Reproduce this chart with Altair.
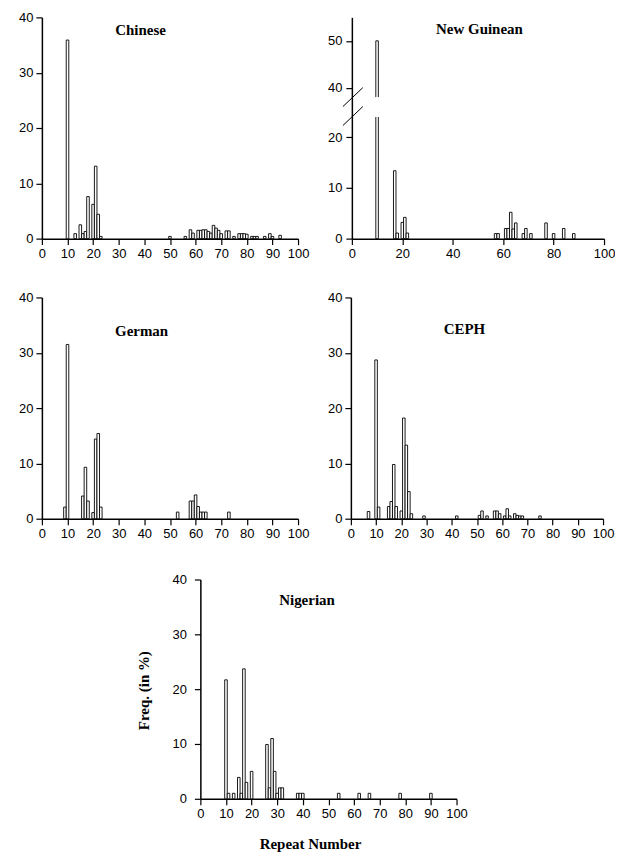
import altair as alt
import pandas as pd

x_ticks = list(range(0, 101, 10))

chinese_repeat = [10, 13, 15, 16, 17, 18, 20, 21, 22, 23, 50, 56, 58, 59, 61, 62, 63, 64, 65, 66,
                  67, 68, 69, 70, 72, 73, 75, 77, 78, 79, 80, 82, 83, 84, 87, 89, 90, 93]
chinese_freq = [35.9, 0.9, 2.5, 0.9, 1.3, 7.6, 6.2, 13.1, 4.4, 0.4, 0.4, 0.4, 1.6, 1.0, 1.5, 1.5, 1.6, 1.6, 1.3, 1.0,
                2.4, 1.9, 1.5, 0.9, 1.4, 1.4, 0.4, 0.9, 0.9, 0.9, 0.8, 0.4, 0.4, 0.4, 0.4, 0.9, 0.4, 0.6]

newguinean_repeat = [10, 17, 18, 20, 21, 22, 57, 58, 61, 62, 63, 64, 65, 68, 69, 71, 77, 80, 84, 88]
newguinean_freq = [50.0, 13.4, 1.1, 3.2, 4.2, 1.1, 1.0, 1.0, 2.0, 2.0, 5.2, 1.9, 3.1, 1.0, 2.0, 1.0, 3.1, 1.0, 2.0, 1.0]

german_repeat = [9, 10, 16, 17, 18, 20, 21, 22, 23, 53, 58, 59, 60, 61, 62, 63, 64, 73]
german_freq = [2.1, 31.5, 4.1, 9.3, 3.2, 1.1, 14.4, 15.4, 2.1, 1.2, 3.2, 3.2, 4.3, 2.2, 1.2, 1.2, 1.2, 1.2]

ceph_repeat = [7, 10, 11, 15, 16, 17, 18, 20, 21, 22, 23, 24, 29, 42, 51, 52, 54, 57, 58, 59,
               61, 62, 63, 65, 66, 67, 68, 75]
ceph_freq = [1.3, 28.7, 2.1, 2.2, 3.1, 9.8, 2.2, 1.4, 18.2, 13.3, 4.9, 0.9, 0.5, 0.5, 0.6, 1.4, 0.5, 1.4, 1.4, 0.9,
             0.5, 1.8, 0.5, 0.9, 0.6, 0.5, 0.5, 0.5]

nigerian_repeat = [10, 11, 13, 15, 16, 17, 18, 20, 26, 27, 28, 29, 30, 31, 32, 38, 39, 40, 54, 62, 66, 78, 90]
nigerian_freq = [21.7, 1.0, 1.0, 3.9, 1.0, 23.7, 3.0, 5.0, 9.9, 2.0, 11.0, 5.0, 1.0, 2.0, 2.0, 1.0, 1.0, 1.0,
                 1.0, 1.0, 1.0, 1.0, 1.0]

# New Guinean broken axis
ng_y_ticks = [0, 10, 20, 40, 50]
ng_break_lo = 24
ng_break_hi = 38

SERIF = "Liberation Serif"
SANS = "Liberation Sans"


def bars_layer(repeat, freq, yscale, yaxis, xaxis):
    df = pd.DataFrame({"repeat": repeat, "freq": freq})
    df["lo"] = df["repeat"] - 0.5
    df["hi"] = df["repeat"] + 0.5
    return alt.Chart(df).mark_rect(fill="white", stroke="black", strokeWidth=0.9).encode(
        x=alt.X("lo:Q", scale=alt.Scale(domain=[0, 100], nice=False, zero=False, padding=0), axis=xaxis),
        x2="hi:Q",
        y=alt.Y("freq:Q", scale=yscale, axis=yaxis),
        y2=alt.datum(0),
    )


def label_layer(name, px, py):
    return alt.Chart(pd.DataFrame({"t": [name]})).mark_text(
        font=SERIF, fontWeight="bold", fontSize=15, color="black"
    ).encode(text="t:N", x=alt.value(px), y=alt.value(py))


def panel(repeat, freq, name, px, py, w, h, label_pad=3, xaxis=None, yaxis=None):
    xa = xaxis if xaxis is not None else alt.Axis(values=x_ticks, title=None, labelPadding=3)
    ya = yaxis if yaxis is not None else alt.Axis(values=[0, 10, 20, 30, 40], title=None,
                                                  labelPadding=label_pad)
    ys = alt.Scale(domain=[0, 40], nice=False, padding=0)
    return alt.layer(bars_layer(repeat, freq, ys, ya, xa), label_layer(name, px, py)).properties(
        width=w, height=h)


chinese = panel(chinese_repeat, chinese_freq, "Chinese", 99, 13, 257, 222)

# New Guinean with axis break
ng_scale = alt.Scale(domain=[0, ng_break_lo, ng_break_hi, 55], range=[222, 100, 80, 0], nice=False)
ng_xa = alt.Axis(values=x_ticks, title=None, labelPadding=3)
ng_ya = alt.Axis(values=ng_y_ticks, title=None, labelPadding=4)
ng_bars = bars_layer(newguinean_repeat, newguinean_freq, ng_scale, ng_ya, ng_xa)
ng_gap = alt.Chart(pd.DataFrame({"a": [9], "b": [11], "lo": [ng_break_lo], "hi": [ng_break_hi]})).mark_rect(
    fill="white").encode(x="a:Q", x2="b:Q", y="lo:Q", y2="hi:Q")
slash_df = pd.DataFrame({"k": [0]})
slash1 = alt.Chart(slash_df).mark_rule(color="black", strokeWidth=1).encode(
    x=alt.value(-9), x2=alt.value(11), y=alt.value(89.5), y2=alt.value(70.5))
slash2 = alt.Chart(slash_df).mark_rule(color="black", strokeWidth=1).encode(
    x=alt.value(-9), x2=alt.value(11), y=alt.value(108.5), y2=alt.value(89.5))
newguinean = alt.layer(ng_bars, ng_gap, slash1, slash2, label_layer("New Guinean", 128, 12)).properties(
    width=253, height=222)

german = panel(german_repeat, german_freq, "German", 100, 34, 257, 222)
ceph = panel(ceph_repeat, ceph_freq, "CEPH", 114, 32, 253, 222)

nig_xa = alt.Axis(values=x_ticks, title="Repeat Number", labelPadding=3, titleFont=SERIF,
                  titleFontWeight="bold", titleFontSize=15, titleColor="black",
                  titleX=110, titleY=45, titleBaseline="middle", titleAlign="center")
nig_ya = alt.Axis(values=[0, 10, 20, 30, 40], title="Freq. (in %)", labelPadding=8, titleFont=SERIF,
                  titleFontWeight="bold", titleFontSize=15, titleColor="black",
                  titleX=-57, titleY=111, titleBaseline="middle", titleAlign="center", titleAngle=-90)
nigerian = panel(nigerian_repeat, nigerian_freq, "Nigerian", 107, 21, 257, 220,
                 xaxis=nig_xa, yaxis=nig_ya)

spacer = alt.Chart(pd.DataFrame({"k": [0]})).mark_point(opacity=0).encode(
    x=alt.value(0), y=alt.value(0)).properties(width=79, height=10)

row1 = alt.hconcat(chinese, newguinean, spacing=18)
row2 = alt.hconcat(german, ceph, spacing=18)
row3 = alt.hconcat(spacer, nigerian, spacing=16)

top_rows = alt.vconcat(row1, row2, spacing=31)

chart = alt.vconcat(top_rows, row3, spacing=33).properties(
    padding={"left": 10, "top": 2, "right": 0, "bottom": 0}, background="white"
).configure_axis(
    domainColor="black", domainWidth=1.5, tickColor="black", tickWidth=1.2, tickSize=6,
    labelFont=SANS, labelFontSize=13, labelColor="black", grid=False, labelOverlap=False,
    labelFlush=False,
).configure_view(stroke=None)

chart.save("out.html", embed_options={"renderer": "svg", "actions": False})
